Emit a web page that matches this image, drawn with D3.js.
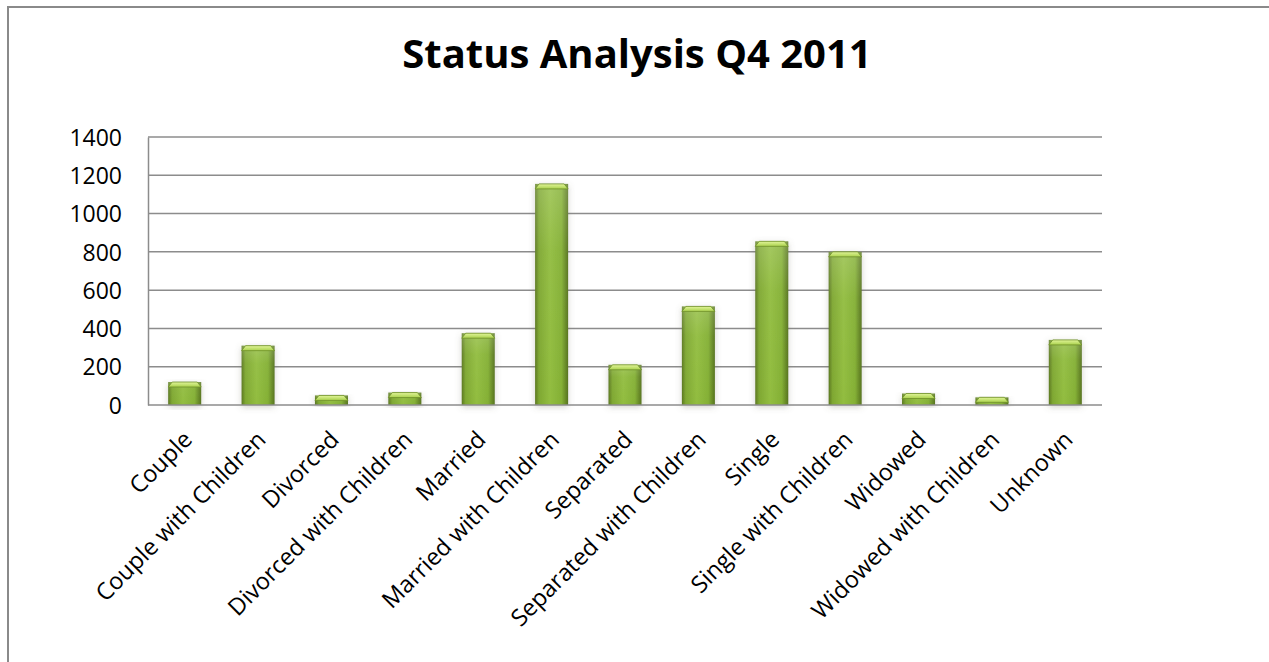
<!DOCTYPE html>
<html>
<head>
<meta charset="utf-8">
<script src="https://cdn.jsdelivr.net/npm/d3@7"></script>
<style>
  body { margin: 0; background: #fff; }
  svg { display: block; }
  text { font-family: "Open Sans", sans-serif; fill: #000; }
</style>
</head>
<body>
<svg id="chart" width="1269" height="662"></svg>
<script>
"use strict";

// data
const categories = [
  "Couple", "Couple with Children", "Divorced", "Divorced with Children",
  "Married", "Married with Children", "Separated", "Separated with Children",
  "Single", "Single with Children", "Widowed", "Widowed with Children", "Unknown"
];
const counts = [120, 310, 50, 65, 375, 1155, 210, 515, 855, 800, 60, 40, 340];
const yTicks = [0, 200, 400, 600, 800, 1000, 1200, 1400];
const chartTitle = "Status Analysis Q4 2011";

const svg = d3.select("#chart");
const W = 1269, H = 662;
const plot = { left: 148, right: 1102, top: 137, bottom: 405 };

// outer frame (runs off the right and bottom edges)
svg.append("rect")
  .attr("x", 8).attr("y", 7)
  .attr("width", W + 20).attr("height", H + 20)
  .attr("fill", "#fff")
  .attr("stroke", "#8a8a8a")
  .attr("stroke-width", 2);

const defs = svg.append("defs");

let body = defs.append("linearGradient").attr("id", "barBody")
  .attr("x1", 0).attr("x2", 1).attr("y1", 0).attr("y2", 0);
[["0%", "#5b7820"], ["12%", "#7fa832"], ["45%", "#92bd40"], ["80%", "#84b035"], ["100%", "#56731e"]]
  .forEach(s => body.append("stop").attr("offset", s[0]).attr("stop-color", s[1]));

let shine = defs.append("linearGradient").attr("id", "barShine")
  .attr("x1", 0).attr("x2", 0).attr("y1", 0).attr("y2", 1);
[["0%", 0.18], ["30%", 0.04], ["100%", 0]]
  .forEach(s => shine.append("stop").attr("offset", s[0]).attr("stop-color", "#fff").attr("stop-opacity", s[1]));

let cap = defs.append("linearGradient").attr("id", "barCap")
  .attr("x1", 0).attr("x2", 0).attr("y1", 0).attr("y2", 1);
[["0%", "#e2f59a"], ["100%", "#a9d14c"]]
  .forEach(s => cap.append("stop").attr("offset", s[0]).attr("stop-color", s[1]));

let glow = defs.append("filter").attr("id", "glow")
  .attr("x", "-40%").attr("y", "-10%").attr("width", "180%").attr("height", "130%");
glow.append("feDropShadow")
  .attr("dx", 0).attr("dy", 2).attr("stdDeviation", 3)
  .attr("flood-color", "#6b6b55").attr("flood-opacity", 0.3);

// title
svg.append("text")
  .attr("x", 637).attr("y", 68)
  .attr("text-anchor", "middle")
  .attr("font-size", "40px")
  .attr("font-weight", "bold")
  .text(chartTitle);

const x = d3.scaleBand()
  .domain(categories)
  .range([plot.left, plot.right])
  .paddingInner(0.55)
  .paddingOuter(0.275);

const y = d3.scaleLinear()
  .domain([0, 1400])
  .range([plot.bottom, plot.top]);

// gridlines
svg.append("g")
  .selectAll("line")
  .data(yTicks.slice(1))
  .enter()
  .append("line")
  .attr("x1", plot.left).attr("x2", plot.right)
  .attr("y1", d => y(d)).attr("y2", d => y(d))
  .attr("stroke", "#8c8c8c")
  .attr("stroke-width", 1.5);

// y axis
let yAxis = svg.append("g")
  .attr("transform", `translate(${plot.left},0)`)
  .call(d3.axisLeft(y).tickValues(yTicks).tickFormat(d3.format("d")).tickSize(0).tickPadding(26));
yAxis.select(".domain").attr("stroke", "#8c8c8c").attr("stroke-width", 1.5);
yAxis.selectAll("text")
  .attr("font-size", "23px")
  .attr("font-family", "Open Sans")
  .attr("dy", "0.36em");

// bars
let bars = svg.append("g")
  .selectAll("g.bar")
  .data(counts)
  .enter()
  .append("g")
  .classed("bar", true)
  .attr("filter", "url(#glow)");

bars.append("rect")
  .attr("x", (d, i) => x(categories[i]))
  .attr("y", d => y(d))
  .attr("width", x.bandwidth())
  .attr("height", d => y(0) - y(d))
  .attr("fill", "url(#barBody)");

bars.append("rect")
  .attr("x", (d, i) => x(categories[i]))
  .attr("y", d => y(d))
  .attr("width", x.bandwidth())
  .attr("height", d => y(0) - y(d))
  .attr("fill", "url(#barShine)");

// bevelled top of each bar
bars.append("path")
  .attr("d", (d, i) => {
    let x0 = x(categories[i]), x1 = x0 + x.bandwidth(), t = y(d);
    let h = Math.min(5, y(0) - t);
    return `M${x0},${t + h}L${x0 + 4},${t}L${x1 - 4},${t}L${x1},${t + h}Z`;
  })
  .attr("fill", "url(#barCap)")
  .attr("stroke", "#6f8f2a")
  .attr("stroke-width", 0.8);

// x axis line
svg.append("line")
  .attr("x1", plot.left).attr("x2", plot.right)
  .attr("y1", y(0)).attr("y2", y(0))
  .attr("stroke", "#8c8c8c")
  .attr("stroke-width", 1.5);

// rotated category labels
svg.append("g")
  .selectAll("text")
  .data(categories)
  .enter()
  .append("text")
  .attr("text-anchor", "end")
  .attr("font-size", "23.5px")
  .attr("transform", d => `translate(${x(d) + x.bandwidth() / 2 + 9},${y(0) + 36}) rotate(-45)`)
  .text(d => d);
</script>
</body>
</html>
